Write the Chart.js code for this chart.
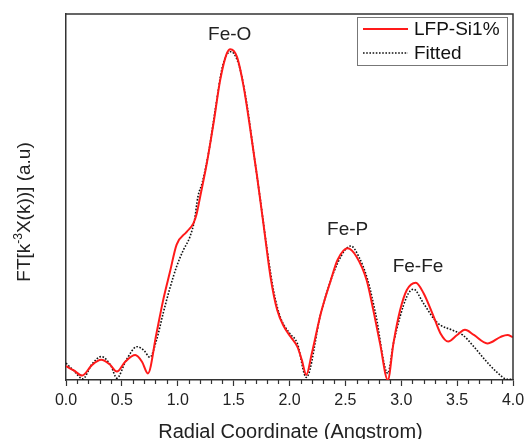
<!DOCTYPE html>
<html>
<head>
<meta charset="utf-8">
<script src="https://cdn.jsdelivr.net/npm/chart.js@4/dist/chart.umd.min.js"></script>
<style>
  body { margin: 0; background: #fff; }
</style>
</head>
<body>
<canvas id="ft-chart" width="524" height="439"></canvas>
<script>
// measured curve (LFP-Si1%)
const measX = [0, 0.07, 0.145, 0.23, 0.315, 0.39, 0.455, 0.53, 0.62, 0.68, 0.733, 0.81, 0.87, 0.93, 0.99, 1.08, 1.14, 1.17,
  1.20, 1.26, 1.32, 1.38, 1.44, 1.47, 1.53, 1.59, 1.65, 1.71, 1.77, 1.83, 1.89, 1.95, 2.01, 2.07, 2.11, 2.15, 2.20,
  2.28, 2.37, 2.43, 2.52, 2.60, 2.69, 2.75, 2.81, 2.88, 2.93, 2.99, 3.05, 3.13, 3.20, 3.29, 3.35, 3.42, 3.50, 3.57,
  3.65, 3.77, 3.89, 3.95, 4.00];
const measY = [0.38, 0.26, 0.12, 0.40, 0.55, 0.43, 0.23, 0.50, 0.68, 0.50, 0.18, 1.28, 2.19, 2.95, 3.70, 4.05, 4.28, 4.55,
  5.00, 5.92, 7.01, 8.20, 8.93, 9.04, 8.83, 8.01, 6.83, 5.56, 4.19, 2.82, 1.91, 1.46, 1.18, 0.91, 0.55, 0.14, 0.73,
  1.82, 2.73, 3.28, 3.60, 3.37, 2.73, 1.91, 1.00, 0.00, 1.00, 1.91, 2.46, 2.66, 2.37, 1.73, 1.28, 1.05, 1.23, 1.37,
  1.23, 1.00, 1.18, 1.23, 1.17];

// fitted curve
const fitX = [0, 0.07, 0.15, 0.23, 0.315, 0.40, 0.455, 0.54, 0.635, 0.70, 0.75, 0.81, 0.87, 0.93, 0.99, 1.05, 1.11, 1.15,
  1.18, 1.22, 1.28, 1.34, 1.40, 1.47, 1.50, 1.56, 1.62, 1.68, 1.74, 1.80, 1.86, 1.92, 2.00, 2.07, 2.15, 2.28, 2.43,
  2.55, 2.62, 2.70, 2.77, 2.88, 2.93, 3.05, 3.11, 3.20, 3.30, 3.35, 3.45, 3.55, 3.65, 3.75, 3.85, 3.95, 4.00];
const fitY = [0.46, 0.25, 0.03, 0.42, 0.64, 0.40, 0.05, 0.55, 0.91, 0.80, 0.62, 1.09, 1.83, 2.51, 3.10, 3.55, 3.92, 4.37,
  5.00, 5.40, 6.28, 7.47, 8.56, 8.97, 8.93, 8.47, 7.50, 6.20, 4.90, 3.55, 2.40, 1.70, 1.28, 1.00, 0.07, 1.82, 3.19,
  3.66, 3.37, 2.73, 1.82, 0.18, 1.00, 2.28, 2.48, 2.09, 1.64, 1.50, 1.37, 1.23, 0.91, 0.55, 0.23, 0.02, 0.02];

const xTicks = [0, 0.5, 1.0, 1.5, 2.0, 2.5, 3.0, 3.5, 4.0];

// peak labels
const peakNames = ['Fe-O', 'Fe-P', 'Fe-Fe'];
const peakX = [1.465, 2.52, 3.15];
const peakY = [9.43, 4.10, 3.09];

const FONT = 'Arial, "Liberation Sans", sans-serif';

const pts = (xs, ys) => xs.map((x, i) => ({ x: x, y: ys[i] }));

// frame, minor ticks, titles, legend, labels
const decor = {
  id: 'decor',
  afterDraw(chart) {
    const { ctx, chartArea: a, scales } = chart;
    const xs = scales.x, ys = scales.y;
    ctx.save();

    // top + right border
    ctx.strokeStyle = '#333';
    ctx.lineWidth = 1.5;
    ctx.beginPath();
    ctx.moveTo(a.left, a.top);
    ctx.lineTo(a.right, a.top);
    ctx.lineTo(a.right, a.bottom);
    ctx.stroke();

    // minor ticks
    ctx.lineWidth = 1.2;
    for (let i = 1; i < 40; i++) {
      if (i % 5 === 0) continue;
      const px = Math.round(xs.getPixelForValue(i / 10)) + 0.5;
      ctx.beginPath();
      ctx.moveTo(px, a.bottom);
      ctx.lineTo(px, a.bottom + 4);
      ctx.stroke();
    }

    // peak labels
    ctx.fillStyle = '#222';
    ctx.font = '19px ' + FONT;
    ctx.textAlign = 'center';
    ctx.textBaseline = 'middle';
    peakNames.forEach((n, i) => {
      ctx.fillText(n, xs.getPixelForValue(peakX[i]), ys.getPixelForValue(peakY[i]));
    });

    // x title
    ctx.font = '20px ' + FONT;
    ctx.textBaseline = 'alphabetic';
    ctx.fillText('Radial Coordinate (Angstrom)', (a.left + a.right) / 2 + 1, 438);

    // y title with superscript
    ctx.save();
    ctx.translate(30, 212);
    ctx.rotate(-Math.PI / 2);
    const parts = [['FT[k', 19, 0], ['-3', 12, -8], ['X(k))] (a.u)', 19, 0]];
    let w = 0;
    parts.forEach(p => { ctx.font = p[1] + 'px ' + FONT; w += ctx.measureText(p[0]).width; });
    let cx = -w / 2;
    ctx.textAlign = 'left';
    parts.forEach(p => {
      ctx.font = p[1] + 'px ' + FONT;
      ctx.fillText(p[0], cx, p[2]);
      cx += ctx.measureText(p[0]).width;
    });
    ctx.restore();

    // legend
    const lx = a.right - 156, ly = a.top + 3, lw = 150, lh = 48;
    ctx.fillStyle = '#fff';
    ctx.fillRect(lx, ly, lw, lh);
    ctx.strokeStyle = '#777';
    ctx.lineWidth = 1;
    ctx.strokeRect(lx + 0.5, ly + 0.5, lw, lh);
    chart.data.datasets.forEach((ds, i) => {
      const yy = ly + 12 + i * 24;
      ctx.strokeStyle = ds.borderColor;
      ctx.lineWidth = ds.borderWidth;
      ctx.setLineDash(ds.borderDash || []);
      ctx.beginPath();
      ctx.moveTo(lx + 6, yy);
      ctx.lineTo(lx + 51, yy);
      ctx.stroke();
      ctx.setLineDash([]);
      ctx.fillStyle = '#111';
      ctx.font = '19px ' + FONT;
      ctx.textAlign = 'left';
      ctx.textBaseline = 'middle';
      ctx.fillText(ds.label, lx + 57, yy + 1);
    });

    ctx.restore();
  }
};

new Chart(document.getElementById('ft-chart').getContext('2d'), {
  type: 'line',
  data: {
    datasets: [
      {
        label: 'LFP-Si1%',
        data: pts(measX, measY),
        borderColor: '#ff1a1a',
        borderWidth: 2,
        pointRadius: 0,
        cubicInterpolationMode: 'monotone'
      },
      {
        label: 'Fitted',
        data: pts(fitX, fitY),
        borderColor: '#111',
        borderWidth: 1.6,
        borderDash: [1.6, 1.6],
        pointRadius: 0,
        cubicInterpolationMode: 'monotone'
      }
    ]
  },
  options: {
    responsive: false,
    animation: false,
    layout: { padding: { top: 14, right: 11, left: 0, bottom: 0 } },
    plugins: {
      legend: { display: false },
      tooltip: { enabled: false }
    },
    scales: {
      x: {
        type: 'linear',
        min: 0,
        max: 4,
        afterFit: s => { s.height = 59; s.paddingLeft = 0; s.paddingRight = 0; },
        afterBuildTicks: s => { s.ticks = xTicks.map(v => ({ value: v })); },
        ticks: {
          padding: 5,
          maxRotation: 0,
          color: '#222',
          font: { family: FONT, size: 16 },
          callback: v => v.toFixed(1)
        },
        grid: {
          drawOnChartArea: false,
          drawTicks: true,
          tickLength: 6,
          tickColor: '#333',
          tickWidth: 1.2
        },
        border: { display: true, color: '#333', width: 1.5 }
      },
      y: {
        min: 0,
        max: 10,
        afterFit: s => { s.width = 66; },
        ticks: { display: false },
        grid: { drawOnChartArea: false, drawTicks: false },
        border: { display: true, color: '#333', width: 1.5 }
      }
    }
  },
  plugins: [decor]
});
</script>
</body>
</html>
